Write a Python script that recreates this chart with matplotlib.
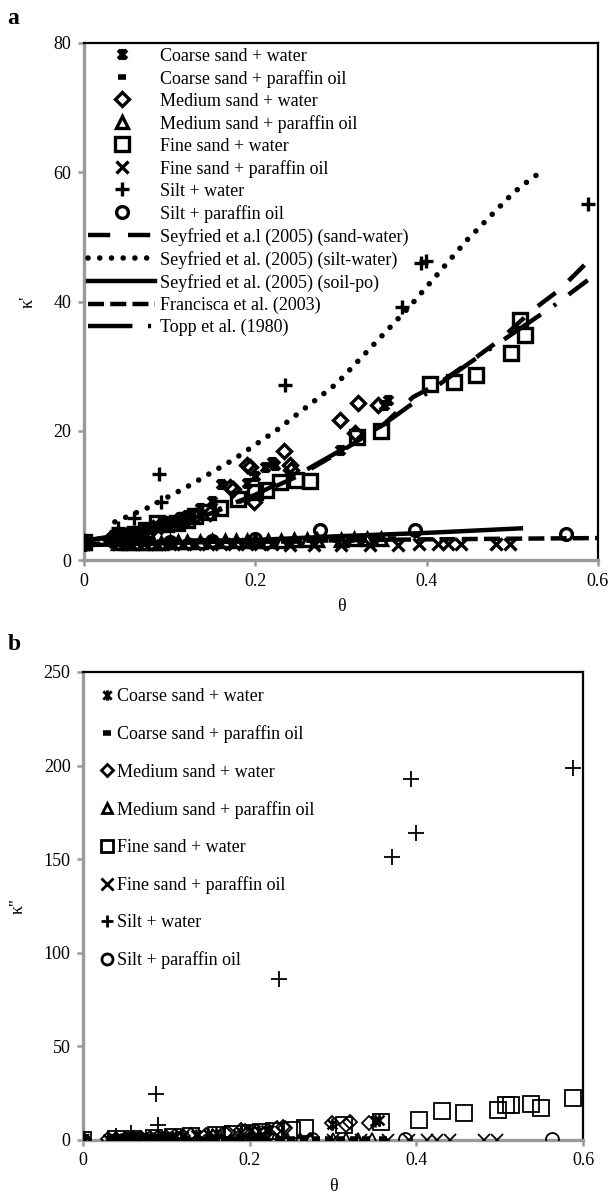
import numpy as np
import matplotlib
matplotlib.use("Agg")
import matplotlib.pyplot as plt
from matplotlib.path import Path

plt.rcParams["font.family"] = ["Liberation Serif", "DejaVu Serif"]

# ── measured data (panel a: κ', panel b: κ'') ─────────────────────
CS_W_THETA = [0, 0.03, 0.038, 0.045, 0.052, 0.06, 0.068, 0.075, 0.082, 0.09,
              0.098, 0.105, 0.112, 0.12, 0.135, 0.15, 0.16, 0.19, 0.2, 0.211,
              0.219, 0.223, 0.299, 0.35, 0.355]
CS_W_K1 = [2.8, 3.3, 3.5, 3.8, 4.0, 4.3, 4.5, 4.8, 5.1, 5.5,
           5.8, 6.2, 6.6, 7.0, 8.0, 9.2, 11.7, 11.9, 13.0, 14.4,
           15.2, 14.7, 17.0, 24.0, 24.8]
CS_W_K2 = [0.2, 0.4, 0.5, 0.6, 0.7, 0.8, 0.9, 1.1, 1.2, 1.4,
           1.6, 1.8, 2.0, 2.2, 2.6, 3.1, 3.6, 4.3, 4.6, 5.0,
           5.3, 5.5, 8.8, 10.2, 10.8]

CS_P_THETA = [0, 0.035, 0.042, 0.05, 0.058, 0.065, 0.072, 0.08, 0.09, 0.1,
              0.11, 0.12, 0.13, 0.14, 0.15, 0.16, 0.17, 0.18, 0.19, 0.2,
              0.21, 0.22, 0.235, 0.25, 0.265, 0.28, 0.295, 0.31, 0.325,
              0.34, 0.36]
CS_P_K1 = [2.6, 2.6, 2.6, 2.7, 2.7, 2.7, 2.7, 2.7, 2.8, 2.8,
           2.8, 2.8, 2.9, 2.9, 2.9, 2.9, 2.9, 2.9, 3.0, 3.0,
           3.0, 3.0, 3.0, 3.0, 3.1, 3.1, 3.1, 3.1, 3.2, 3.2, 3.2]
CS_P_K2 = [0.1, 0.1, 0.1, 0.1, 0.1, 0.1, 0.1, 0.2, 0.2, 0.2,
           0.2, 0.2, 0.2, 0.2, 0.2, 0.2, 0.3, 0.3, 0.3, 0.3,
           0.3, 0.3, 0.3, 0.3, 0.3, 0.3, 0.4, 0.4, 0.4, 0.4, 0.4]

MS_W_THETA = [0, 0.03, 0.04, 0.05, 0.06, 0.07, 0.08, 0.09, 0.1, 0.11,
              0.12, 0.13, 0.147, 0.17, 0.174, 0.19, 0.194, 0.198, 0.233,
              0.24, 0.242, 0.299, 0.316, 0.32, 0.343]
MS_W_K1 = [2.8, 3.2, 3.5, 3.8, 4.1, 4.5, 4.9, 5.3, 5.6, 6.0,
           6.4, 6.8, 7.2, 11.3, 11.0, 14.7, 14.4, 9.0, 16.8,
           14.7, 14.0, 21.7, 19.6, 24.3, 24.0]
MS_W_K2 = [0.2, 0.3, 0.4, 0.6, 0.8, 1.0, 1.2, 1.4, 1.6, 1.9,
           2.1, 2.4, 2.9, 4.0, 4.0, 5.2, 5.0, 3.5, 6.5,
           7.1, 6.5, 8.9, 8.0, 9.8, 8.9]

MS_P_THETA = [0, 0.04, 0.05, 0.06, 0.07, 0.08, 0.09, 0.1, 0.11, 0.12,
              0.135, 0.15, 0.165, 0.177, 0.19, 0.2, 0.215, 0.23, 0.245,
              0.26, 0.272, 0.3, 0.315, 0.33, 0.347]
MS_P_K1 = [2.6, 2.6, 2.6, 2.7, 2.7, 2.7, 2.7, 2.8, 2.8, 2.8,
           2.8, 2.9, 2.9, 2.9, 3.0, 3.0, 3.0, 3.0, 3.1,
           3.1, 3.1, 3.1, 3.2, 3.2, 3.2]
MS_P_K2 = [0.1, 0.1, 0.1, 0.1, 0.1, 0.2, 0.2, 0.2, 0.2, 0.2,
           0.2, 0.2, 0.2, 0.2, 0.3, 0.3, 0.3, 0.3, 0.3,
           0.3, 0.3, 0.3, 0.4, 0.4, 0.4]

FS_W_THETA_A = [0, 0.04, 0.05, 0.06, 0.072, 0.085, 0.096, 0.108, 0.12, 0.13,
                0.145, 0.159, 0.18, 0.2, 0.213, 0.229, 0.248, 0.264, 0.319,
                0.347, 0.404, 0.432, 0.458, 0.499, 0.509, 0.515]
FS_W_K1 = [2.8, 3.4, 3.7, 4.0, 4.6, 5.7, 5.5, 5.7, 6.2, 6.8,
           7.4, 8.0, 9.5, 10.5, 10.8, 12.1, 12.4, 12.2, 19.1,
           19.9, 27.3, 27.6, 28.6, 32.0, 37.1, 34.8]
FS_W_THETA_B = [0, 0.04, 0.06, 0.085, 0.108, 0.13, 0.159, 0.18, 0.2, 0.213,
                0.229, 0.251, 0.266, 0.313, 0.358, 0.403, 0.431, 0.457,
                0.498, 0.507, 0.514, 0.537, 0.549, 0.588]
FS_W_K2 = [0.2, 0.4, 0.7, 1.2, 1.5, 2.0, 2.7, 3.3, 4.0, 4.4,
           5.0, 5.3, 6.2, 8.0, 9.8, 10.7, 15.7, 14.2,
           16.0, 18.7, 18.7, 19.1, 16.9, 22.3]

FS_P_THETA = [0, 0.04, 0.055, 0.07, 0.085, 0.1, 0.115, 0.13, 0.145, 0.16,
              0.175, 0.19, 0.205, 0.22, 0.24, 0.268, 0.3, 0.334, 0.366,
              0.391, 0.413, 0.425, 0.44, 0.481, 0.497]
FS_P_K1 = [2.5, 2.5, 2.5, 2.5, 2.5, 2.5, 2.5, 2.5, 2.5, 2.5,
           2.5, 2.5, 2.5, 2.5, 2.4, 2.4, 2.4, 2.4, 2.4,
           2.5, 2.5, 2.5, 2.5, 2.5, 2.5]
FS_P_K2 = [0.1, 0.1, 0.1, 0.1, 0.1, 0.1, 0.1, 0.1, 0.1, 0.1,
           0.1, 0.1, 0.1, 0.1, 0.1, 0.1, 0.1, 0.1, 0.1,
           0.1, 0.1, 0.1, 0.1, 0.1, 0.1]

SI_W_THETA = [0, 0.04, 0.058, 0.087, 0.09, 0.235, 0.371, 0.393, 0.399, 0.588]
SI_W_K1 = [3.0, 5.0, 6.5, 13.3, 9.0, 27.1, 39.2, 46.0, 46.3, 55.1]
SI_W_K2 = [0.5, 2.0, 4.0, 24.6, 8.0, 86.0, 151.3, 192.7, 163.8, 198.6]

SI_P_THETA = [0, 0.05, 0.1, 0.15, 0.2, 0.275, 0.386, 0.563]
SI_P_K1 = [2.5, 2.7, 2.8, 3.0, 3.2, 4.6, 4.6, 4.1]
SI_P_K2 = [0.1, 0.1, 0.2, 0.2, 0.3, 0.5, 0.4, 0.5]

# model curves (panel a)
SEY_SW_THETA = [0, 0.05, 0.1, 0.15, 0.2, 0.25, 0.3, 0.35, 0.384, 0.415,
                0.454, 0.485, 0.524, 0.555, 0.59, 0.6]
SEY_SW_K = [3.0, 4.0, 5.3, 7.3, 10.0, 13.0, 16.8, 21.0, 25.2, 27.4,
            31.0, 34.0, 38.7, 41.8, 46.4, 47.0]

SEY_SILT_THETA = [0.036, 0.073, 0.12, 0.174, 0.225, 0.295, 0.38, 0.447,
                  0.501, 0.52, 0.533]
SEY_SILT_K = [5.9, 8.0, 11.3, 15.5, 20.1, 27.3, 39.2, 49.5, 56.8, 58.8, 60.0]

SEY_PO_THETA = [0, 0.1, 0.2, 0.3, 0.4, 0.51]
SEY_PO_K = [2.3, 2.6, 3.1, 3.7, 4.2, 4.9]

FRA_THETA = [0, 0.2, 0.4, 0.6]
FRA_K = [2.5, 2.9, 3.2, 3.4]

TOPP_THETA = [0, 0.05, 0.1, 0.15, 0.2, 0.26, 0.3, 0.35, 0.4, 0.45, 0.5,
              0.55, 0.588]
TOPP_K = [3.0, 3.8, 5.3, 7.5, 10.1, 14.0, 17.0, 21.0, 25.8, 30.5, 35.0,
          39.5, 43.3]

LABELS = ["Coarse sand + water", "Coarse sand + paraffin oil",
          "Medium sand + water", "Medium sand + paraffin oil",
          "Fine sand + water", "Fine sand + paraffin oil",
          "Silt + water", "Silt + paraffin oil"]
LINE_LABELS = ["Seyfried et a.l (2005) (sand-water)",
               "Seyfried et al. (2005) (silt-water)",
               "Seyfried et al. (2005) (soil-po)",
               "Francisca et al. (2003)",
               "Topp et al. (1980)"]

# Excel-style "star": an X with a vertical bar
STAR = Path([(-1, -1), (1, 1), (-1, 1), (1, -1), (0, -1.25), (0, 1.25)],
            [Path.MOVETO, Path.LINETO] * 3)

FS = 13
GRAY = "#9a9a9a"


def style_axes(ax):
    for side in ("left", "bottom"):
        ax.spines[side].set_color(GRAY)
        ax.spines[side].set_linewidth(2.4)
    for side in ("top", "right"):
        ax.spines[side].set_color("black")
        ax.spines[side].set_linewidth(1.6)
    ax.tick_params(direction="out", length=4, width=1.8, color=GRAY,
                   labelsize=FS, pad=5)


def scatter_series(ax, data, heavy):
    mew = 2.4 if heavy else 1.3
    ms = 10 if heavy else 11
    specs = [
        dict(marker=STAR, ms=ms * 0.8, mew=mew + 0.5),
        dict(marker="_", ms=6, mew=4),
        dict(marker="D", ms=ms * 0.68),
        dict(marker="^", ms=ms * 0.8),
        dict(marker="s", ms=ms),
        dict(marker="x", ms=ms * 0.85),
        dict(marker="+", ms=ms),
        dict(marker="o", ms=ms * 0.85),
    ]
    handles = []
    for (th, k), spec, lab in zip(data, specs, LABELS):
        kw = dict(mew=mew, mec="black", mfc="none", color="black")
        kw.update(spec)
        h, = ax.plot(th, k, linestyle="none", label=lab, zorder=3, **kw)
        handles.append(h)
    return handles


fig = plt.figure(figsize=(6.10, 12.01), dpi=100)

# ── panel a ───────────────────────────────────────────────────────
ax1 = fig.add_axes([0.1377, 0.5337, 0.8426, 0.4305])
h1 = scatter_series(ax1, [(CS_W_THETA, CS_W_K1), (CS_P_THETA, CS_P_K1),
                          (MS_W_THETA, MS_W_K1), (MS_P_THETA, MS_P_K1),
                          (FS_W_THETA_A, FS_W_K1), (FS_P_THETA, FS_P_K1),
                          (SI_W_THETA, SI_W_K1), (SI_P_THETA, SI_P_K1)], True)

lw = 3.2
l1, = ax1.plot(SEY_SW_THETA, SEY_SW_K, color="black", lw=lw,
               linestyle=(0, (5, 4)), zorder=4)
l2, = ax1.plot(SEY_SILT_THETA, SEY_SILT_K, color="black", lw=4,
               linestyle=(0, (0.01, 2.1)), dash_capstyle="round", zorder=4)
l3, = ax1.plot(SEY_PO_THETA, SEY_PO_K, color="black", lw=lw, zorder=4)
l4, = ax1.plot(FRA_THETA, FRA_K, color="black", lw=lw,
               linestyle=(0, (3.6, 1.4)), zorder=4)
l5, = ax1.plot(TOPP_THETA, TOPP_K, color="black", lw=lw,
               linestyle=(0, (10, 3.5, 0.7, 3.5)), zorder=4)

ax1.set_xlim(0, 0.6)
ax1.set_ylim(0, 80)
ax1.set_xticks([0, 0.2, 0.4, 0.6])
ax1.set_xticklabels(["0", "0.2", "0.4", "0.6"])
ax1.set_yticks([0, 20, 40, 60, 80])
style_axes(ax1)
ax1.set_xlabel("θ", fontsize=FS, labelpad=6)
ax1.set_ylabel("κ'", fontsize=FS, labelpad=12)
ax1.legend(h1 + [l1, l2, l3, l4, l5], LABELS + LINE_LABELS,
           loc="upper left", bbox_to_anchor=(0.008, 0.991), frameon=False,
           fontsize=FS, handlelength=3.7, handletextpad=0.3,
           labelspacing=0.28, borderpad=0, borderaxespad=0)
fig.text(0.012, 0.985, "a", fontsize=17, fontweight="bold", va="center")

# ── panel b ───────────────────────────────────────────────────────
ax2 = fig.add_axes([0.1361, 0.0508, 0.8197, 0.3897])
h2 = scatter_series(ax2, [(CS_W_THETA, CS_W_K2), (CS_P_THETA, CS_P_K2),
                          (MS_W_THETA, MS_W_K2), (MS_P_THETA, MS_P_K2),
                          (FS_W_THETA_B, FS_W_K2), (FS_P_THETA, FS_P_K2),
                          (SI_W_THETA, SI_W_K2), (SI_P_THETA, SI_P_K2)], False)
ax2.set_xlim(0, 0.6)
ax2.set_ylim(0, 250)
ax2.set_xticks([0, 0.2, 0.4, 0.6])
ax2.set_xticklabels(["0", "0.2", "0.4", "0.6"])
ax2.set_yticks([0, 50, 100, 150, 200, 250])
style_axes(ax2)
ax2.set_xlabel("θ", fontsize=FS, labelpad=6)
ax2.set_ylabel("κ''", fontsize=FS, labelpad=12)
leg2 = ax2.legend(h2, LABELS, loc="upper left", bbox_to_anchor=(0.036, 0.965),
                  frameon=False, fontsize=FS, handlelength=0.7,
                  handletextpad=0.2, labelspacing=1.12, borderpad=0,
                  borderaxespad=0, markerscale=0.85)
# bolder legend symbols; the short bar keeps its own thickness
for i, h in enumerate(leg2.legend_handles):
    h.set_markeredgewidth(4.0 if i == 1 else 2.0)
fig.text(0.012, 0.463, "b", fontsize=17, fontweight="bold", va="center")

fig.savefig("out.png", dpi=100)
